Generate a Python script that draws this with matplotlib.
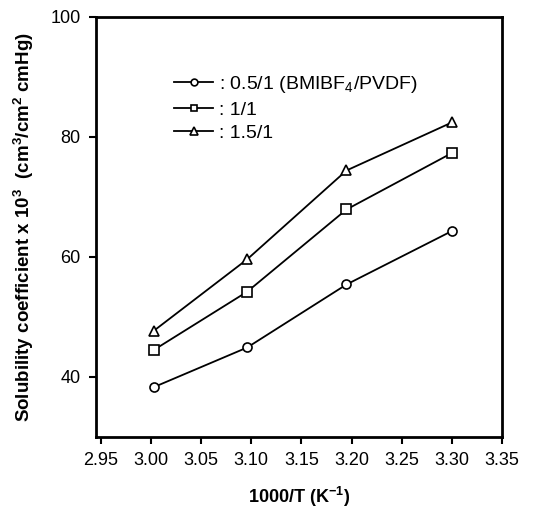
import matplotlib.pyplot as plt

# 1000/T values (K^-1)
inv_temp = [3.003, 3.096, 3.195, 3.300]

# solubility coefficient x 10^3 for each BMIBF4/PVDF ratio
sol_05 = [38.3, 44.9, 55.4, 64.3]
sol_10 = [44.5, 54.2, 67.9, 77.3]
sol_15 = [47.7, 59.6, 74.4, 82.4]

labels = [': 0.5/1 (BMIBF$_4$/PVDF)', ': 1/1', ': 1.5/1']
markers = ['o', 's', '^']

x_ticks = [2.95, 3.00, 3.05, 3.10, 3.15, 3.20, 3.25, 3.30, 3.35]
y_ticks = [40, 60, 80, 100]

plt.rcParams['font.family'] = ['Liberation Sans', 'DejaVu Sans']
plt.rcParams['mathtext.fontset'] = 'custom'
plt.rcParams['mathtext.rm'] = 'Liberation Sans'
plt.rcParams['mathtext.bf'] = 'Liberation Sans:bold'

fig = plt.figure(figsize=(5.38, 5.11), dpi=100)
ax = fig.add_axes([0.178, 0.145, 0.755, 0.822])

for ys, lab, mk in zip([sol_05, sol_10, sol_15], labels, markers):
    ax.plot(inv_temp, ys, color='black', linewidth=1.3, marker=mk,
            markersize=6.5 if mk != '^' else 7, markerfacecolor='white',
            markeredgecolor='black', markeredgewidth=1.2, label=lab)

ax.set_xlim(2.945, 3.35)
ax.set_ylim(30, 100)
ax.set_xticks(x_ticks)
ax.set_xticklabels([f'{v:.2f}' for v in x_ticks])
ax.set_yticks(y_ticks)

for s in ax.spines.values():
    s.set_linewidth(2)
ax.tick_params(direction='out', length=5, width=1.5, labelsize=13, pad=6)

ax.set_xlabel('1000/T (K$^{\\mathbf{-1}}$)', fontsize=13, fontweight='bold', labelpad=11)
ax.set_ylabel('Solubility coefficient x 10$^{\\mathbf{3}}$  (cm$^{\\mathbf{3}}$/cm$^{\\mathbf{2}}$ cmHg)',
              fontsize=13.5, fontweight='bold', labelpad=10)

ax.legend(loc='upper left', bbox_to_anchor=(0.15, 0.905), frameon=False,
          fontsize=14, handlelength=2.0, handletextpad=0.3, labelspacing=0.3,
          markerscale=0.75)

fig.savefig('out.png', dpi=100)
